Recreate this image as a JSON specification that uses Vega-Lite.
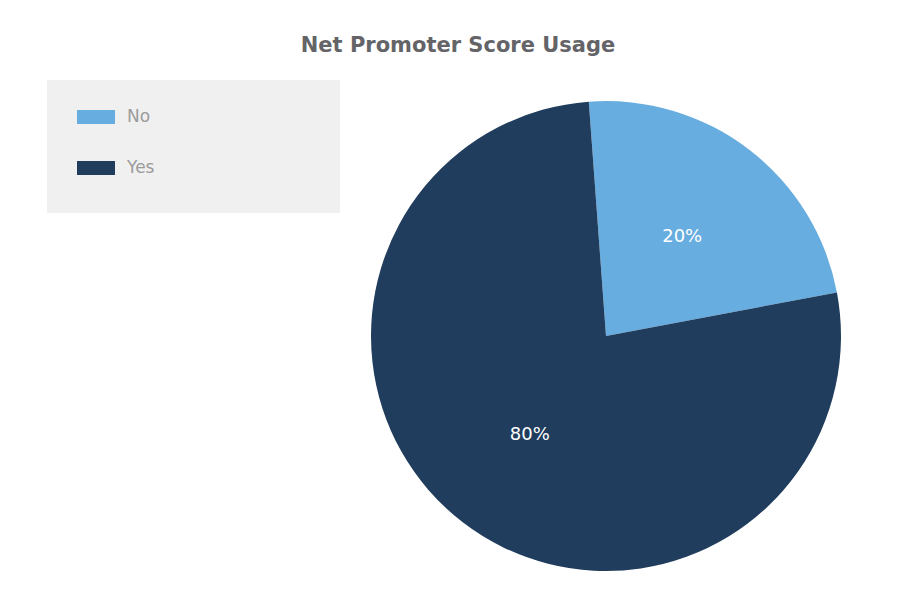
{
  "$schema": "https://vega.github.io/schema/vega-lite/v6.json",
  "width": 470,
  "height": 470,
  "autosize": {"type": "none"},
  "padding": {"left": 371, "top": 101, "right": 63, "bottom": 26},
  "background": "white",
  "config": {"view": {"stroke": null}},
  "title": {
    "text": "Net Promoter Score Usage",
    "font": "DejaVu Sans",
    "fontSize": 21,
    "fontWeight": "bold",
    "color": "#646468",
    "anchor": "middle",
    "frame": "group",
    "baseline": "alphabetic",
    "offset": 50,
    "dx": -148,
    "dy": 43
  },
  "data": {
    "values": [
      {"answer": "No", "share": 23.2, "label": "20%"},
      {"answer": "Yes", "share": 76.8, "label": "80%"}
    ]
  },
  "encoding": {
    "theta": {"field": "share", "type": "quantitative", "stack": true, "scale": {"range": [-0.0733, 6.2099]}},
    "order": {"field": "answer", "type": "ordinal", "sort": "ascending"}
  },
  "layer": [
    {
      "mark": {"type": "arc", "strokeWidth": 0},
      "encoding": {
        "color": {
          "field": "answer",
          "type": "nominal",
          "scale": {"domain": ["No", "Yes"], "range": ["#68addf", "#203d5d"]},
          "legend": {
            "orient": "none",
            "legendX": -324,
            "legendY": -21,
            "title": "\u200b",
            "titleOrient": "bottom",
            "titleFontSize": 10,
            "titlePadding": 9,
            "fillColor": "#f0f0f0",
            "padding": 18,
            "symbolType": "M-0.368,-0.368L1.632,-0.368L1.632,0.368L-0.368,0.368Z",
            "symbolSize": 1444,
            "symbolStrokeWidth": 0,
            "labelFont": "DejaVu Sans",
            "labelFontSize": 17,
            "labelColor": "#9b9b9b",
            "labelOffset": 24,
            "rowPadding": 24,
            "labelLimit": 400,
            "labelExpr": "datum.label + '                               \u200b'"
          }
        }
      }
    },
    {
      "mark": {"type": "text", "radius": 125, "font": "DejaVu Sans", "fontSize": 18},
      "encoding": {
        "text": {"field": "label", "type": "nominal"},
        "detail": {"field": "answer", "type": "nominal"},
        "color": {"value": "#ffffff"}
      }
    }
  ]
}
